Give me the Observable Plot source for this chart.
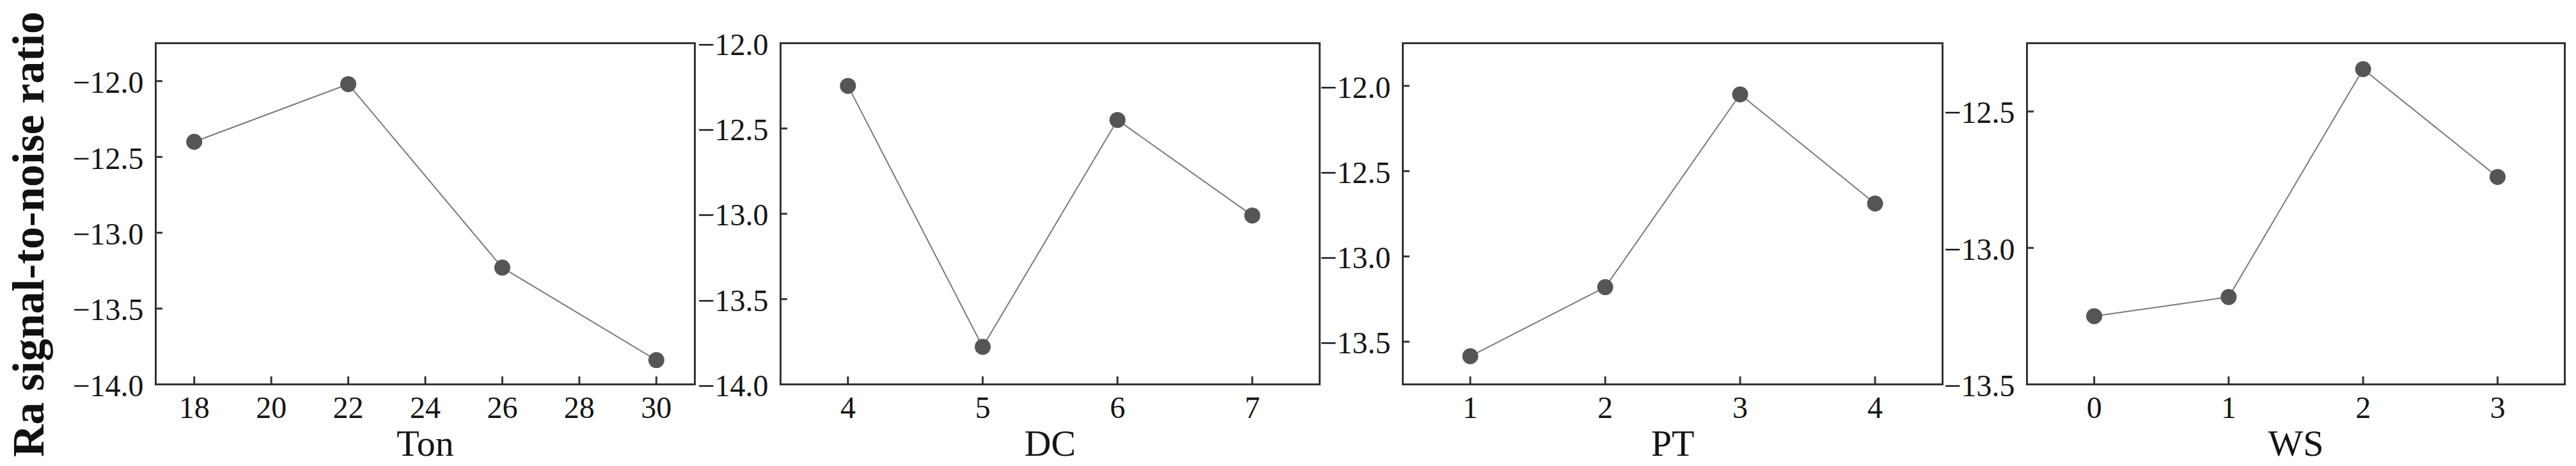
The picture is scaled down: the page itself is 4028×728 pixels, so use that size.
<!DOCTYPE html>
<html>
<head>
<meta charset="utf-8">
<script src="https://cdn.jsdelivr.net/npm/d3@7"></script>
<script src="https://cdn.jsdelivr.net/npm/@observablehq/plot@0.6"></script>
<style>
  html, body { margin: 0; padding: 0; background: #ffffff; }
  #chart { position: relative; width: 4028px; height: 728px; overflow: hidden; background: #ffffff; }
  #ytitle {
    position: absolute; left: 0; top: 0; width: 728px; height: 90px;
    transform-origin: 0 0; transform: translate(0px, 730px) rotate(-90deg);
    text-align: center; line-height: 90px; white-space: nowrap;
    font-family: "Liberation Serif", "Times New Roman", serif; font-weight: bold; font-size: 70px; color: #111;
  }
  .panel { position: absolute; top: 0; }
</style>
</head>
<body>
<div id="chart">
  <div id="ytitle">Ra signal-to-noise ratio</div>
</div>
<script>
// ---- data ----
const yTitle = "Ra signal-to-noise ratio";

const tonLabel = "Ton";
const tonLevels = [18, 22, 26, 30];
const tonSN = [-12.40, -12.02, -13.23, -13.84];
const tonXTicks = [18, 20, 22, 24, 26, 28, 30];
const tonYTicks = [-14.0, -13.5, -13.0, -12.5, -12.0];

const dcLabel = "DC";
const dcLevels = [4, 5, 6, 7];
const dcSN = [-12.25, -13.78, -12.45, -13.01];
const dcXTicks = [4, 5, 6, 7];
const dcYTicks = [-14.0, -13.5, -13.0, -12.5, -12.0];

const ptLabel = "PT";
const ptLevels = [1, 2, 3, 4];
const ptSN = [-13.585, -13.18, -12.05, -12.69];
const ptXTicks = [1, 2, 3, 4];
const ptYTicks = [-13.5, -13.0, -12.5, -12.0];

const wsLabel = "WS";
const wsLevels = [0, 1, 2, 3];
const wsSN = [-13.25, -13.18, -12.345, -12.74];
const wsXTicks = [0, 1, 2, 3];
const wsYTicks = [-13.5, -13.0, -12.5];

// ---- layout ----
const H = 728, MT = 67, MB = 128, ML = 140, MR = 4;
const FONT = '"Liberation Serif", "Times New Roman", serif';

const panels = [
  {label: tonLabel, levels: tonLevels, sn: tonSN, xTicks: tonXTicks, yTicks: tonYTicks, xDomain: [17, 31], yDomain: [-14, -11.75], left: 243, right: 1086},
  {label: dcLabel, levels: dcLevels, sn: dcSN, xTicks: dcXTicks, yTicks: dcYTicks, xDomain: [3.5, 7.5], yDomain: [-14, -12], left: 1220, right: 2063},
  {label: ptLabel, levels: ptLevels, sn: ptSN, xTicks: ptXTicks, yTicks: ptYTicks, xDomain: [0.5, 4.5], yDomain: [-13.75, -11.75], left: 2193, right: 3037},
  {label: wsLabel, levels: wsLevels, sn: wsSN, xTicks: wsXTicks, yTicks: wsYTicks, xDomain: [-0.5, 3.5], yDomain: [-13.5, -12.25], left: 3169, right: 4010}
];

const chart = document.getElementById("chart");
const fmtY = d3.format(".1f");

for (const p of panels) {
  const data = p.levels.map((x, i) => ({x, y: p.sn[i]}));
  const frameW = p.right - p.left;
  const frameH = H - MT - MB;
  const svg = Plot.plot({
    width: frameW + ML + MR,
    height: H,
    marginLeft: ML, marginRight: MR, marginTop: MT, marginBottom: MB,
    x: {domain: p.xDomain},
    y: {domain: p.yDomain},
    style: {background: "transparent", fontFamily: FONT, color: "#151515", overflow: "visible"},
    marks: [
      Plot.axisX(p.xTicks, {tickSize: 0, tickPadding: 18, fontSize: 48, fontFamily: FONT, tickFormat: d => String(d), label: null}),
      Plot.axisY(p.yTicks, {tickSize: 0, tickPadding: 19, fontSize: 48, fontFamily: FONT, tickFormat: fmtY, label: null, dy: 3}),
      Plot.ruleX(p.xTicks, {x: d => d, insetTop: frameH - 12, stroke: "#333", strokeWidth: 3}),
      Plot.ruleY(p.yTicks, {y: d => d, insetRight: frameW - 11, stroke: "#333", strokeWidth: 3}),
      Plot.line(data, {x: "x", y: "y", stroke: "#7a7a7a", strokeWidth: 2}),
      Plot.dot(data, {x: "x", y: "y", r: 12.5, fill: "#555555", stroke: "none"}),
      Plot.frame({stroke: "#333", strokeWidth: 3}),
      Plot.text([p.label], {text: d => d, frameAnchor: "bottom", lineAnchor: "middle", dy: 93, fontSize: 58, fontFamily: FONT, fill: "#151515"})
    ]
  });
  svg.classList.add("panel");
  svg.style.left = (p.left - ML) + "px";
  chart.appendChild(svg);
}
</script>
</body>
</html>
